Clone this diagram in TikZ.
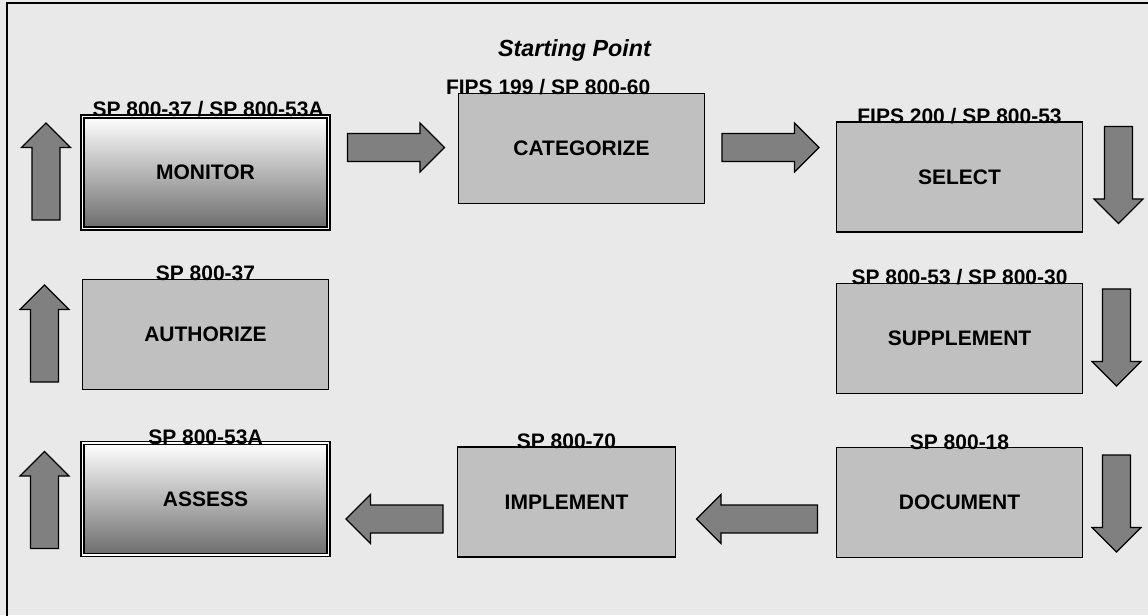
\documentclass[tikz,border=0pt]{standalone}
\usepackage{fontspec}
\setmainfont{Liberation Sans}
\usetikzlibrary{shapes.arrows}
\definecolor{bggray}{HTML}{E9E9E9}
\definecolor{boxgray}{HTML}{C0C0C0}
\definecolor{arrowgray}{HTML}{808080}
\definecolor{shadegray}{HTML}{6C6C6C}
\newcommand{\boxfont}{\fontsize{15.75}{18}\selectfont\bfseries}
\tikzset{
	stepbox/.style={draw, fill=boxgray, line width=1.2pt, minimum width=184.5pt, minimum height=82.5pt, inner sep=0pt, font=\boxfont},
	gradbox/.style={draw, double=white, double distance=1.4pt, line width=1.1pt, top color=white, bottom color=shadegray, minimum width=184.5pt, minimum height=84pt, inner sep=0pt, font=\boxfont},
	reflabel/.style={anchor=base, inner sep=0pt, font=\boxfont},
	blockarrow/.style={single arrow, draw, fill=arrowgray, line width=0.9pt, inner sep=9pt, minimum width=36.75pt, minimum height=72.75pt}
}
\begin{document}
\begin{tikzpicture}[x=0.75pt, y=-0.75pt]
		\fill [bggray] (0,0) rectangle (1148,615);
		\useasboundingbox (0,0) rectangle (1148,615);
		\draw [line width=1.5pt] (7,616) -- (7,3) -- (1149,3);
		
		\node (start) at (574.5,50) [font=\fontsize{17.5}{20}\selectfont\bfseries\itshape] {Starting Point};
		
		\node (mon) at (205.5,172.5) [gradbox] {MONITOR};
		\node (cat) at (581.5,148.5) [stepbox] {CATEGORIZE};
		\node (sel) at (959.5,177) [stepbox] {SELECT};
		\node (aut) at (205.5,334.5) [stepbox] {AUTHORIZE};
		\node (sup) at (959.5,338.5) [stepbox] {SUPPLEMENT};
		\node (ass) at (205.5,499) [gradbox] {ASSESS};
		\node (imp) at (566.5,502) [stepbox, minimum width=163.5pt] {IMPLEMENT};
		\node (doc) at (959.5,502.5) [stepbox] {DOCUMENT};
		
		\node (monref) at ([yshift=-0.5pt]mon.north) [reflabel, xshift=2pt] {SP 800-37 / SP 800-53A};
		\node (catref) at ([yshift=-1.5pt]cat.north) [reflabel, xshift=-25pt] {FIPS 199 / SP 800-60};
		\node (selref) at ([yshift=-1.5pt]sel.north) [reflabel] {FIPS 200 / SP 800-53};
		\node (autref) at ([yshift=-1.5pt]aut.north) [reflabel] {SP 800-37};
		\node (supref) at ([yshift=-1.5pt]sup.north) [reflabel] {SP 800-53 / SP 800-30};
		\node (assref) at ([yshift=-2pt]ass.north) [reflabel] {SP 800-53A};
		\node (impref) at ([yshift=-2pt]imp.north) [reflabel] {SP 800-70};
		\node (docref) at ([yshift=-2pt]doc.north) [reflabel] {SP 800-18};
		
		\node (mc) at (389,147.5) [blockarrow] {};
		\node (cs) at (763.5,147.5) [blockarrow] {};
		\node (sd1) at (1118.5,168) [blockarrow, rotate=-90] {};
		\node (sd2) at (1116.5,330.5) [blockarrow, rotate=-90] {};
		\node (sd3) at (1116.5,496.5) [blockarrow, rotate=-90] {};
		\node (di) at (764,519) [blockarrow, rotate=180, minimum height=90.75pt] {};
		\node (ia) at (401.5,519) [blockarrow, rotate=180] {};
		\node (au1) at (44.5,507) [blockarrow, rotate=90] {};
		\node (au2) at (44.5,340.5) [blockarrow, rotate=90] {};
		\node (au3) at (46,178.5) [blockarrow, rotate=90] {};
		\end{tikzpicture}
\end{document}
